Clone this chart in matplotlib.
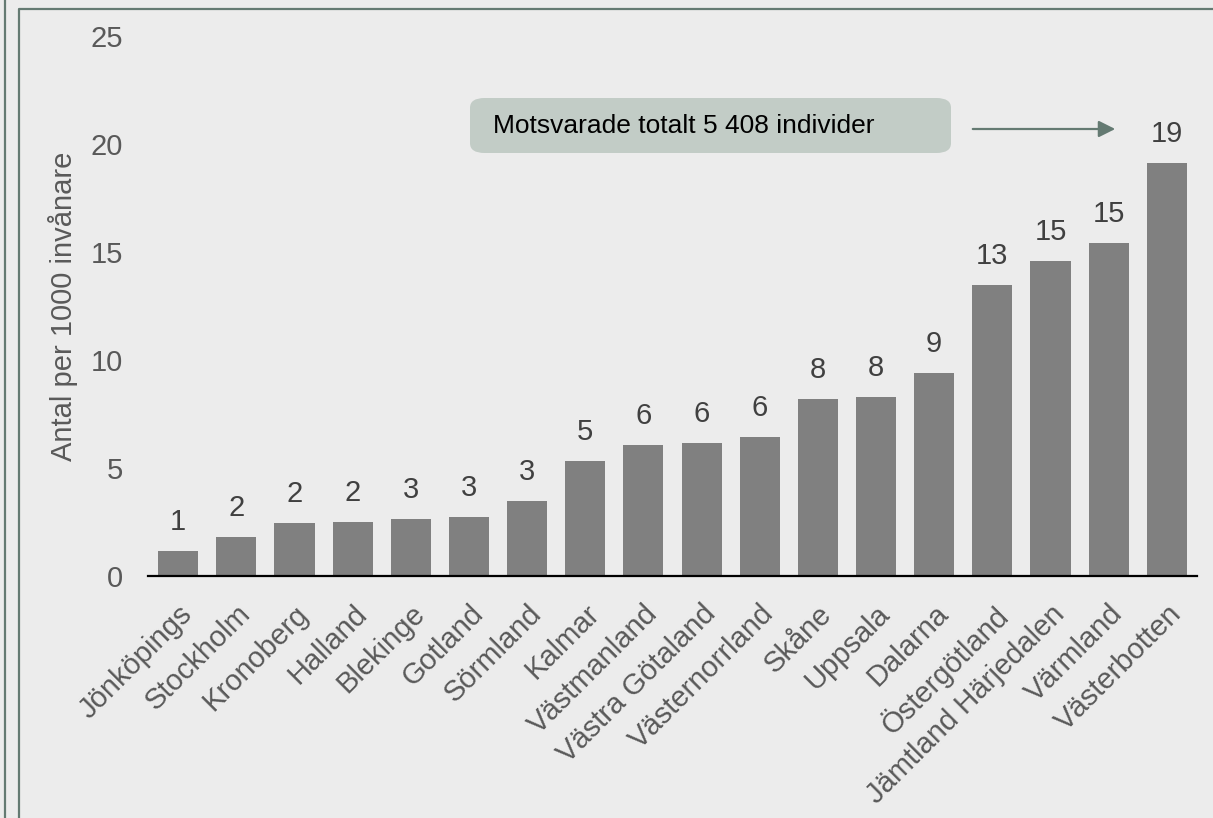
import matplotlib
matplotlib.use("Agg")
import matplotlib.pyplot as plt
from matplotlib.lines import Line2D
from matplotlib.patches import FancyBboxPatch, FancyArrowPatch

# Data
regions = ["Jönköpings", "Stockholm", "Kronoberg", "Halland", "Blekinge", "Gotland",
           "Sörmland", "Kalmar", "Västmanland", "Västra Götaland", "Västernorrland",
           "Skåne", "Uppsala", "Dalarna", "Östergötland", "Jämtland Härjedalen",
           "Värmland", "Västerbotten"]
values = [1.16, 1.81, 2.45, 2.49, 2.64, 2.73, 3.47, 5.32, 6.06, 6.16, 6.44,
          8.19, 8.29, 9.40, 13.47, 14.58, 15.42, 19.12]
y_ticks = [0, 5, 10, 15, 20, 25]
note_text = "Motsvarade totalt 5 408 individer"

bg = "#ececec"
frame_col = "#647a72"
plt.rcParams["font.family"] = ["Liberation Sans", "DejaVu Sans"]

fig = plt.figure(figsize=(12.13, 8.18), dpi=100, facecolor=bg)
ax = fig.add_axes([148 / 1213, 1 - 576 / 818, 1049 / 1213, 540 / 818])
ax.set_facecolor(bg)

x = range(len(regions))
bars = ax.bar(x, values, width=0.69, color="#808080", zorder=2)
ax.bar_label(bars, fmt="%.0f", padding=11, fontsize=21, color="#404040")

ax.set_xlim(-0.52, len(regions) - 0.48)
ax.set_ylim(0, 25)
ax.set_yticks(y_ticks)
ax.set_xticks(list(x))
ax.set_xticklabels(regions, rotation=45, ha="right", rotation_mode="anchor")
ax.tick_params(axis="y", length=0, pad=18, labelsize=21, labelcolor="#595959")
ax.tick_params(axis="x", length=0, pad=17, labelsize=21, labelcolor="#595959")

for s in ["top", "right", "left"]:
    ax.spines[s].set_visible(False)
ax.spines["bottom"].set_linewidth(1.6)
ax.spines["bottom"].set_color("black")

ax.set_ylabel("Antal per 1000 invånare", fontsize=21, color="#595959", labelpad=9)

# Annotation box with arrow
box = FancyBboxPatch((470 / 1213, 1 - 153 / 818), 481 / 1213, 55 / 818,
                     boxstyle="round,pad=0,rounding_size=0.012",
                     transform=fig.transFigure, facecolor="#c2ccc6",
                     edgecolor="none", zorder=3)
fig.patches.append(box)
fig.text(493 / 1213, 1 - 126 / 818, note_text, fontsize=19, color="black",
         va="center", ha="left", zorder=4)
fig.add_artist(FancyArrowPatch(
    (970 / 1213, 1 - 129 / 818), (1118 / 1213, 1 - 129 / 818),
    transform=fig.transFigure, arrowstyle="-|>,head_length=10,head_width=5",
    color=frame_col, lw=1.6, mutation_scale=1))

# Slide frame lines
fig.add_artist(Line2D([4.5 / 1213, 4.5 / 1213], [0, 1], transform=fig.transFigure,
                      color=frame_col, lw=1.6))
fig.add_artist(Line2D([18.5 / 1213, 18.5 / 1213, 1], [0, 1 - 8.5 / 818, 1 - 8.5 / 818],
                      transform=fig.transFigure, color=frame_col, lw=1.6))

fig.savefig("out.png", dpi=100, facecolor=bg)
